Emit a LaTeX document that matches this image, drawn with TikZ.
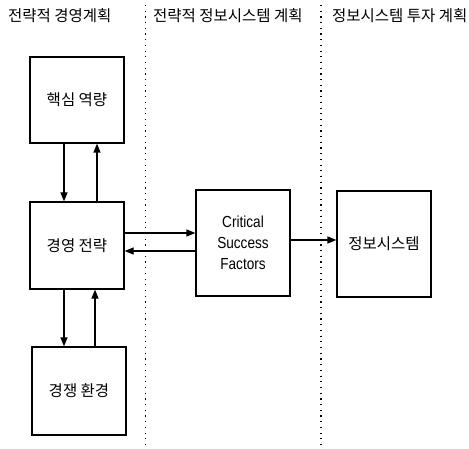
\documentclass[tikz,border=0pt]{standalone}
\usepackage{fontspec}
\setmainfont{Noto Sans CJK KR}
\newfontfamily\latinf[FakeStretch=0.85]{Liberation Sans}
\usetikzlibrary{arrows.meta}
\tikzset{
  box/.style={draw, line width=1.2pt, minimum width=94pt, inner sep=0pt, font=\fontsize{15.5}{18}\selectfont},
  arr/.style={line width=1.2pt, -{Triangle[length=9pt,width=7pt]}},
  sep/.style={line width=1.2pt, dash pattern=on 1.2pt off 4.5pt},
  head/.style={anchor=west, inner sep=0pt, font=\fontsize{15.5}{18}\selectfont}
}
\begin{document}
\begin{tikzpicture}[x=1pt, y=-1pt]
\useasboundingbox (0,0) rectangle (469,449);
% headers
\node[head] (h1) at (8,16) {전략적 경영계획};
\node[head] (h2) at (153,16) {전략적 정보시스템 계획};
\node[head] (h3) at (332,16) {정보시스템 투자 계획};
% separators
\coordinate (d1t) at (145.5,5);
\coordinate (d1b) at (145.5,446);
\coordinate (d2t) at (321,5);
\coordinate (d2b) at (321,446);
\draw[sep] (d1t) -- (d1b);
\draw[sep] (d2t) -- (d2b);
% boxes
\node[box, minimum height=86pt] (b1) at (77,100) {핵심 역량};
\node[box, minimum height=87pt] (b2) at (77,245.5) {경영 전략};
\node[box, minimum height=88pt] (b3) at (79,391) {경쟁 환경};
\node[box, minimum height=106pt, align=center, font=\latinf\fontsize{16}{21}\selectfont] (csf) at (243,243) {Critical\\Success\\Factors};
\node[box, minimum height=106pt] (is) at (384,244) {정보시스템};
% vertical arrows
\coordinate (a1) at ([xshift=-13pt]b1.south);
\coordinate (a2) at ([xshift=20pt]b1.south);
\draw[arr] (a1) -- (a1 |- b2.north);
\draw[arr] (a2 |- b2.north) -- (a2);
\coordinate (a3) at ([xshift=-13pt]b2.south);
\coordinate (a4) at ([xshift=18pt]b2.south);
\draw[arr] (a3) -- (a3 |- b3.north);
\draw[arr] (a4 |- b3.north) -- (a4);
% horizontal arrows
\coordinate (r1) at ([yshift=10pt]csf.west);
\coordinate (r2) at ([yshift=-8pt]csf.west);
\draw[arr] (r1 -| b2.east) -- (r1);
\draw[arr] (r2) -- (r2 -| b2.east);
\coordinate (r3) at ([yshift=3pt]csf.east);
\draw[arr] (r3) -- (r3 -| is.west);
\end{tikzpicture}
\end{document}
